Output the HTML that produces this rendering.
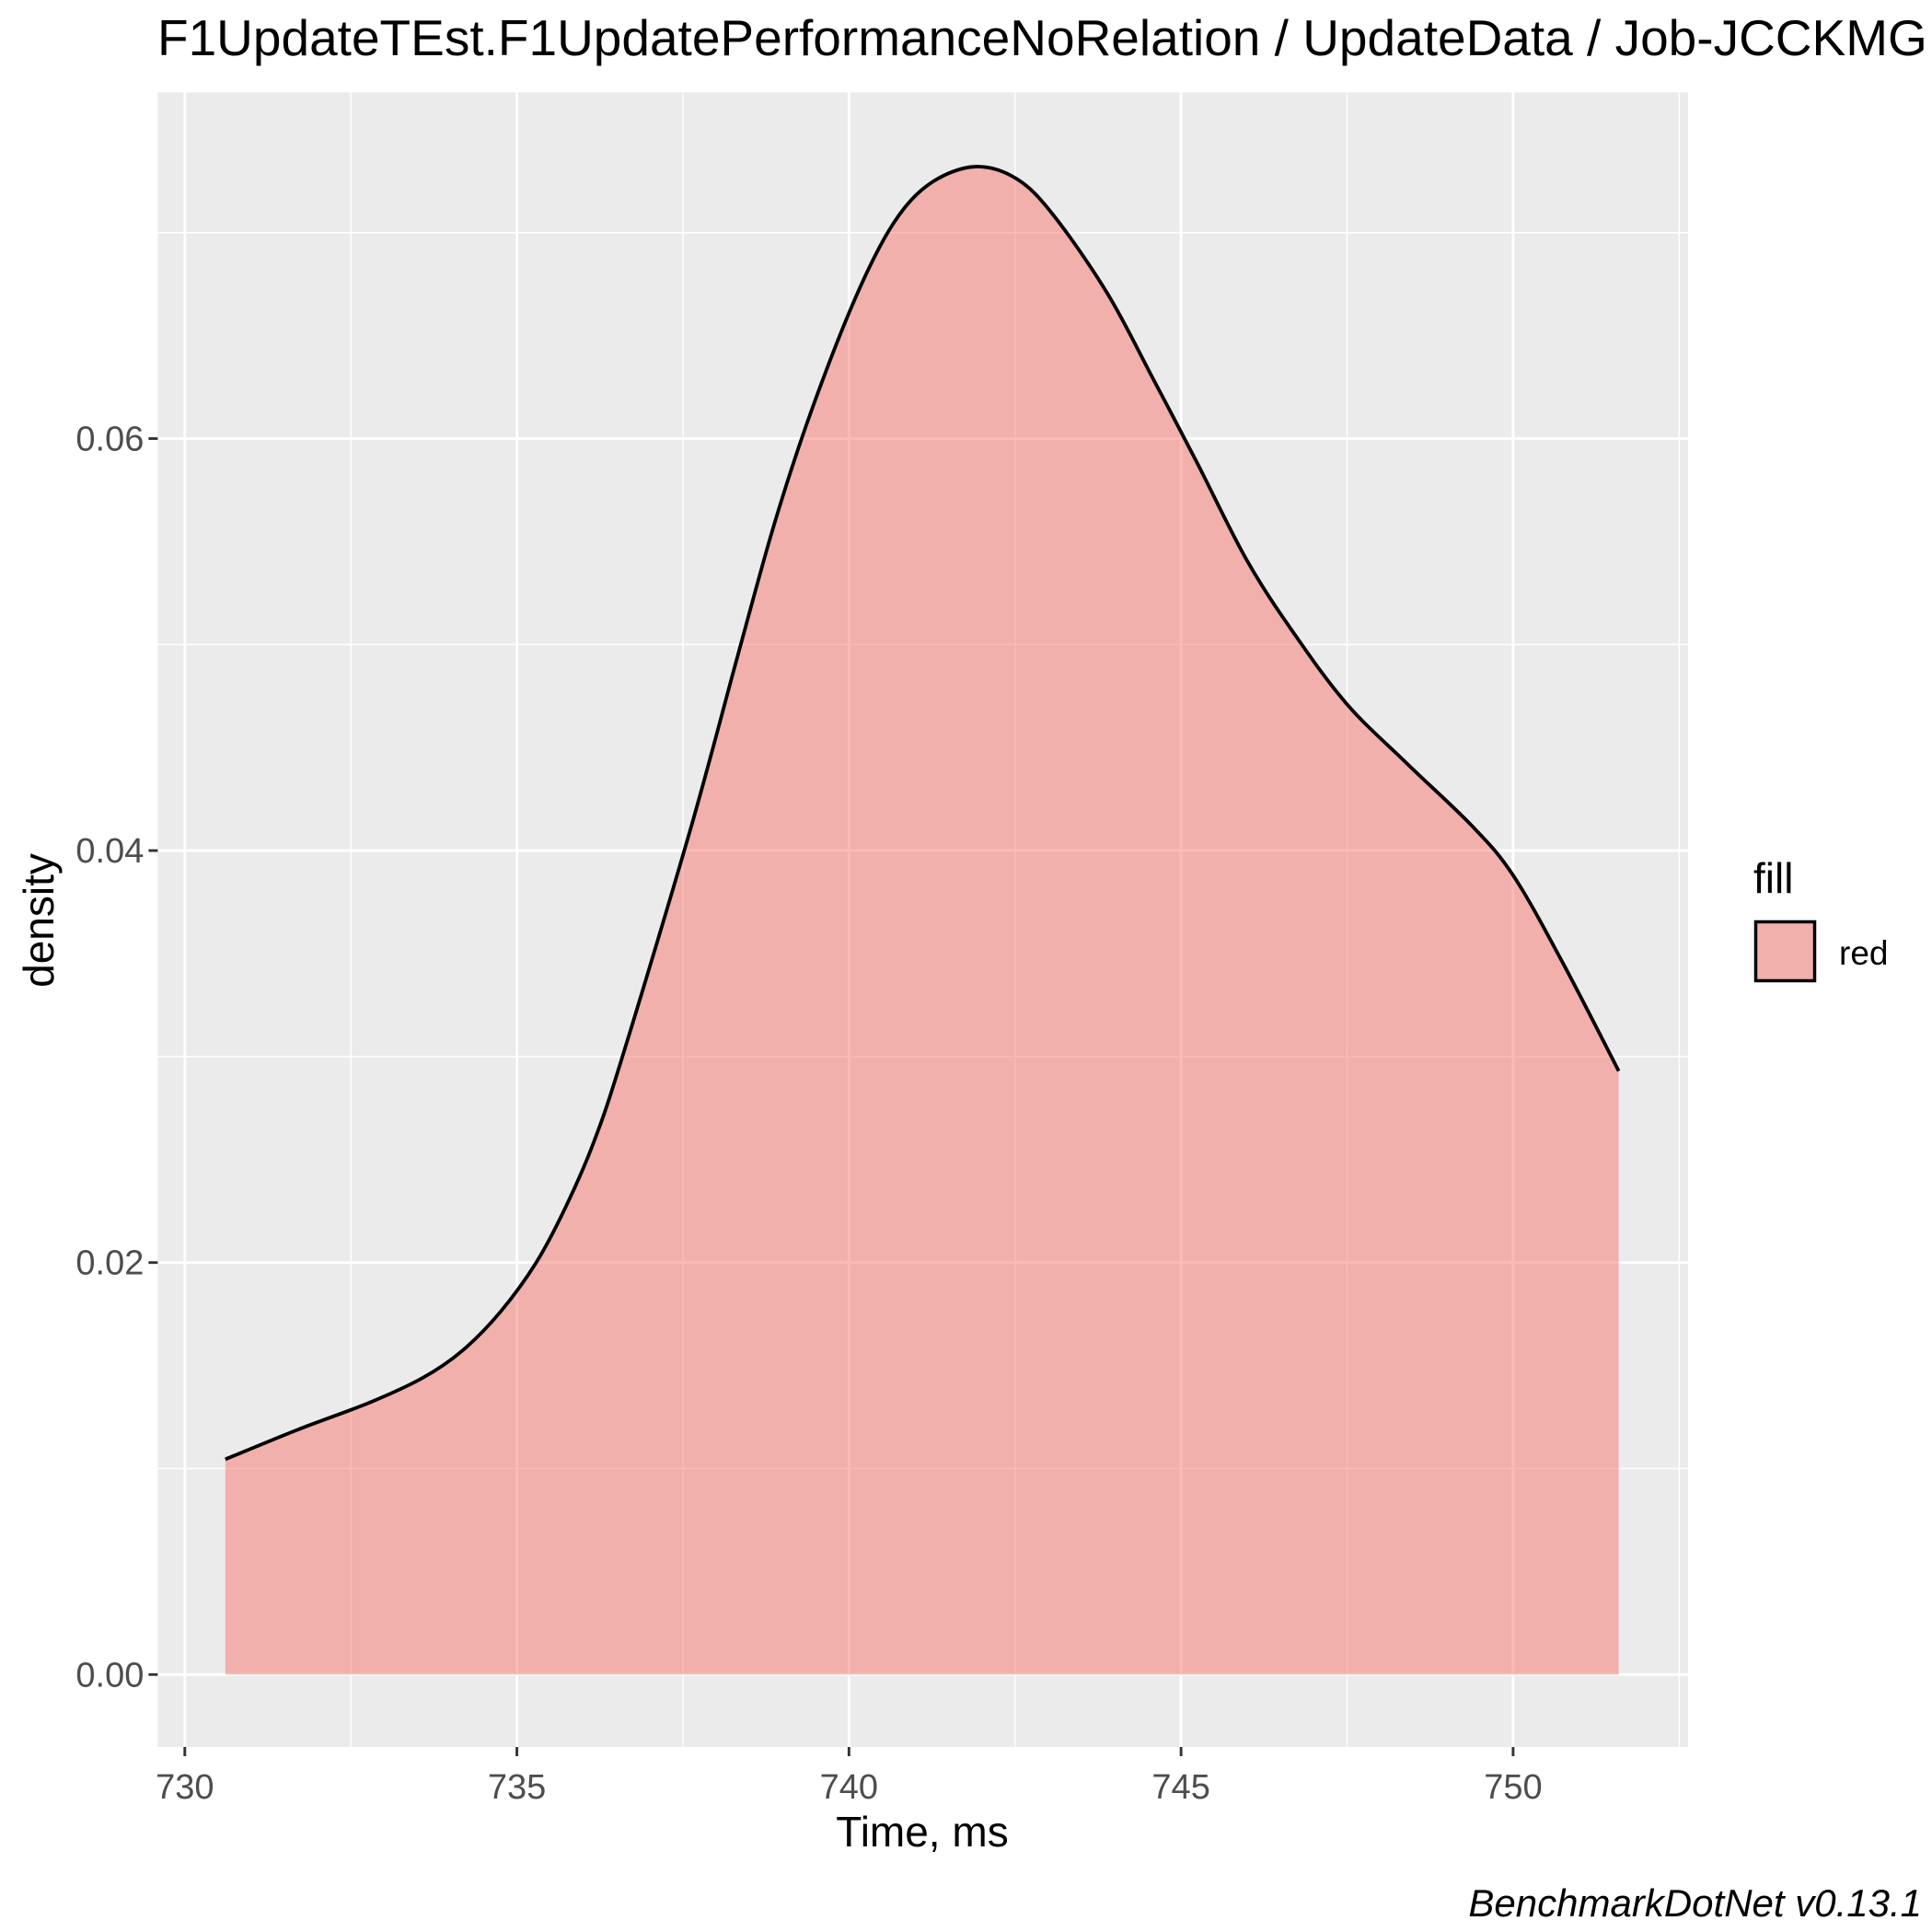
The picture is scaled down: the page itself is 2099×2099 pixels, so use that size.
<!DOCTYPE html>
<html><head><meta charset="utf-8"><style>
html,body{margin:0;padding:0;background:#fff;}
svg{display:block;font-family:"Liberation Sans",sans-serif;}
</style></head><body>
<svg id="chart" width="2099" height="2099" viewBox="0 0 2099 2099">
<text x="171" y="60" font-size="55" fill="#000">F1UpdateTEst.F1UpdatePerformanceNoRelation / UpdateData / Job-JCCKMG</text>
<rect x="171.4" y="100.4" width="1662.6" height="1797.6" fill="#EBEBEB"/>
<g id="grid"></g>
<g id="marks"></g>
<g id="axes"></g>
<text x="1002" y="2006" font-size="46" text-anchor="middle" fill="#000">Time, ms</text>
<text transform="translate(58,1000) rotate(-90)" font-size="46" text-anchor="middle" fill="#000">density</text>
<text x="1905" y="970" font-size="46" fill="#000">fill</text>
<rect x="1906" y="1000" width="67" height="67" fill="#EBEBEB" stroke="none"/>
<rect x="1907.5" y="1001.5" width="64" height="64" fill="#F8766D" fill-opacity="0.5" stroke="#000" stroke-width="3.5"/>
<text x="1998" y="1048" font-size="37" fill="#000">red</text>
<text x="2088" y="2082" font-size="42" font-style="italic" text-anchor="end" fill="#000">BenchmarkDotNet v0.13.1</text>
</svg>
<script>
const xValues=[730.61,731.71,732.78,733.58,734.17,734.75,735.29,735.72,736.14,736.57,737.61,738.32,738.88,739.44,740.12,740.68,741.23,741.90,742.53,743.09,743.90,744.58,745.23,745.99,746.71,747.50,748.41,749.38,750.0,750.74,751.59];
const densityValues=[0.01045,0.0119,0.0132,0.0144,0.0157,0.0176,0.0200,0.0226,0.0257,0.0298,0.0410,0.0494,0.0559,0.0614,0.0670,0.0705,0.0724,0.0732,0.0726,0.0708,0.0670,0.0629,0.0589,0.0541,0.0505,0.0471,0.0442,0.0412,0.0388,0.0346,0.0293];
const xTicks=[730,735,740,745,750];
const xTickLabels=["730","735","740","745","750"];
const yTicks=[0,0.02,0.04,0.06];
const yTickLabels=["0.00","0.02","0.04","0.06"];
const NS="http://www.w3.org/2000/svg";
const X=v=>200.8+(v-730)*72.155;
const Y=d=>1819.3-d*22380;
const PL=171.4,PR=1834,PT=100.4,PB=1898;
function mk(t,a,p){const e=document.createElementNS(NS,t);for(const k in a)e.setAttribute(k,a[k]);p.appendChild(e);return e;}
const grid=document.getElementById('grid'),marks=document.getElementById('marks'),axes=document.getElementById('axes');
for(let i=0;i<xTicks.length;i++){const v=xTicks[i]+2.5;const gx=X(v);if(gx<PR){
const l=mk('line',{x1:gx,x2:gx,y1:PT,y2:PB,stroke:'#fff','stroke-width':1.5},grid);

}}
for(let i=0;i<yTicks.length;i++){const gy=Y(yTicks[i]+0.01);
const l=mk('line',{x1:PL,x2:PR,y1:gy,y2:gy,stroke:'#fff','stroke-width':1.5},grid);

}
xTicks.forEach((v,i)=>{const gx=X(v);
const l=mk('line',{x1:gx,x2:gx,y1:PT,y2:PB,stroke:'#fff','stroke-width':2.9},grid);


mk('line',{x1:gx,x2:gx,y1:PB,y2:PB+10,stroke:'#333','stroke-width':2.9},axes);
const t=mk('text',{x:gx,y:PB+56,'font-size':38,fill:'#4D4D4D','text-anchor':'middle'},axes);
t.textContent=xTickLabels[i];

});
yTicks.forEach((v,i)=>{const gy=Y(v);
const l=mk('line',{x1:PL,x2:PR,y1:gy,y2:gy,stroke:'#fff','stroke-width':2.9},grid);


mk('line',{x1:PL-10,x2:PL,y1:gy,y2:gy,stroke:'#333','stroke-width':2.9},axes);
const t=mk('text',{x:PL-15,y:gy+13,'font-size':38,fill:'#4D4D4D','text-anchor':'end'},axes);
t.textContent=yTickLabels[i];

});
const pts=xValues.map((v,i)=>[X(v),Y(densityValues[i])]);
let d=`M${pts[0][0]},${pts[0][1]}`;
for(let i=0;i<pts.length-1;i++){const p0=pts[Math.max(0,i-1)],p1=pts[i],p2=pts[i+1],p3=pts[Math.min(pts.length-1,i+2)];
const c1=[p1[0]+(p2[0]-p0[0])/6,p1[1]+(p2[1]-p0[1])/6],c2=[p2[0]-(p3[0]-p1[0])/6,p2[1]-(p3[1]-p1[1])/6];
d+=` C${c1[0]},${c1[1]} ${c2[0]},${c2[1]} ${p2[0]},${p2[1]}`;}
const y0=Y(0),last=pts[pts.length-1];
const area=mk('path',{d:d+` L${last[0]},${y0} L${pts[0][0]},${y0} Z`,fill:'#F8766D','fill-opacity':0.5,stroke:'none'},marks);


const line=mk('path',{d:d,fill:'none',stroke:'#000','stroke-width':3.8},marks);


</script>
</body></html>
